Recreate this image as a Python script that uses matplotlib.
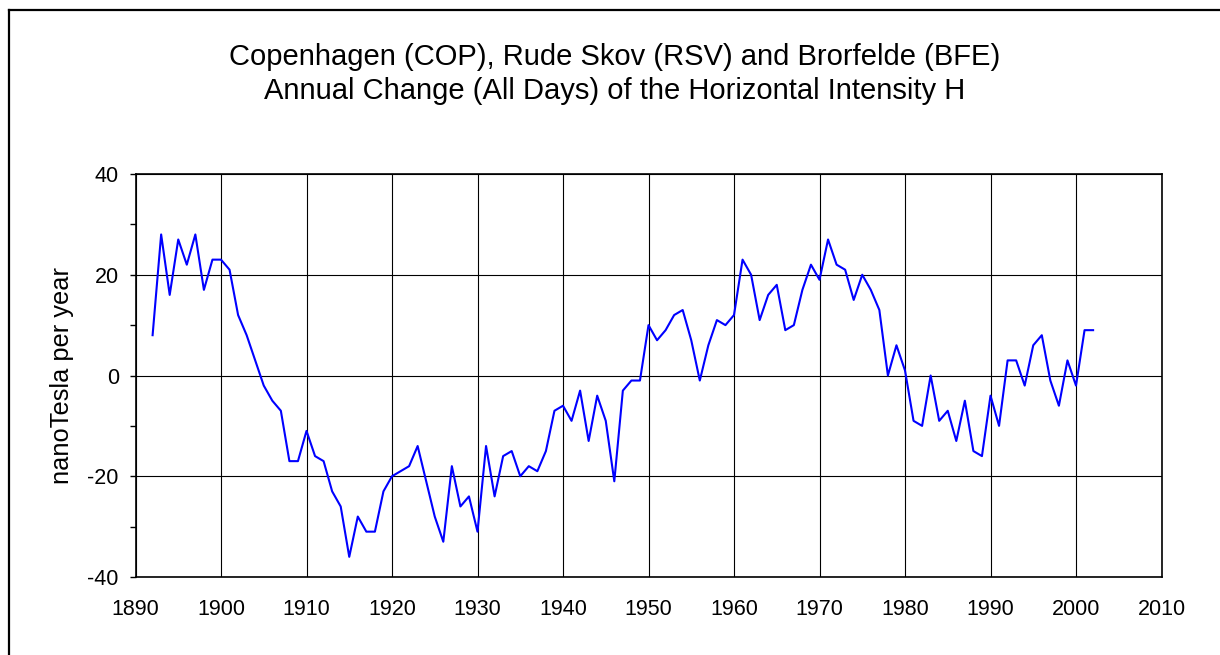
import matplotlib
matplotlib.use('Agg')
import matplotlib.pyplot as plt
from matplotlib.lines import Line2D
from matplotlib.ticker import MultipleLocator

years = list(range(1892, 2003))
h_change = [
    8, 28, 16, 27, 22, 28, 17, 23, 23, 21,          # 1892-1901
    12, 8, 3, -2, -5, -7, -17, -17, -11, -16,       # 1902-1911
    -17, -23, -26, -36, -28, -31, -31, -23, -20, -19,  # 1912-1921
    -18, -14, -21, -28, -33, -18, -26, -24, -31, -14,  # 1922-1931
    -24, -16, -15, -20, -18, -19, -15, -7, -6, -9,     # 1932-1941
    -3, -13, -4, -9, -21, -3, -1, -1, 10, 7,           # 1942-1951
    9, 12, 13, 7, -1, 6, 11, 10, 12, 23,               # 1952-1961
    20, 11, 16, 18, 9, 10, 17, 22, 19, 27,             # 1962-1971
    22, 21, 15, 20, 17, 13, 0, 6, 1, -9,               # 1972-1981
    -10, 0, -9, -7, -13, -5, -15, -16, -4, -10,        # 1982-1991
    3, 3, -2, 6, 8, -1, -6, 3, -2, 9, 9,               # 1992-2002
]

title = ("Copenhagen (COP), Rude Skov (RSV) and Brorfelde (BFE)\n"
         "Annual Change (All Days) of the Horizontal Intensity H")
ylabel = "nanoTesla per year"

plt.rcParams['font.family'] = ['Liberation Sans', 'DejaVu Sans']
plt.rcParams['axes.unicode_minus'] = False

fig = plt.figure(figsize=(12.2, 6.55), dpi=100)
ax = fig.add_axes([135.5 / 1220, 1 - 577 / 655, 1026 / 1220, 403 / 655])

ax.plot(years, h_change, color='#0000ff', linewidth=1.5)

ax.set_xlim(1890, 2010)
ax.set_ylim(-40, 40)
ax.xaxis.set_major_locator(MultipleLocator(10))
ax.yaxis.set_major_locator(MultipleLocator(20))
ax.yaxis.set_minor_locator(MultipleLocator(10))
ax.grid(True, which='major', color='black', linewidth=0.8)
ax.set_axisbelow(True)

ax.tick_params(axis='x', length=0, pad=16, labelsize=15.5)
ax.tick_params(axis='y', which='major', direction='out', length=4, width=1,
               pad=8, labelsize=15.5)
ax.tick_params(axis='y', which='minor', direction='out', length=4, width=1)
for s in ax.spines.values():
    s.set_linewidth(1.2)
    s.set_color('black')

ax.set_ylabel(ylabel, fontsize=18.3)
ax.yaxis.set_label_coords(62 / 1220, 1 - 375.5 / 655, transform=fig.transFigure)
ax.yaxis.label.set_va('center')
fig.text(615 / 1220, 1 - 74 / 655, title, ha='center',
         va='center', fontsize=21, linespacing=1.25)

# outer chart frame (top and left edges visible)
fig.add_artist(Line2D([8.5 / 1220, 1], [1 - 9.5 / 655, 1 - 9.5 / 655],
                      transform=fig.transFigure, color='black', linewidth=1.6))
fig.add_artist(Line2D([8.5 / 1220, 8.5 / 1220], [0, 1 - 9.5 / 655],
                      transform=fig.transFigure, color='black', linewidth=1.6))

fig.savefig('out.png', dpi=100)
